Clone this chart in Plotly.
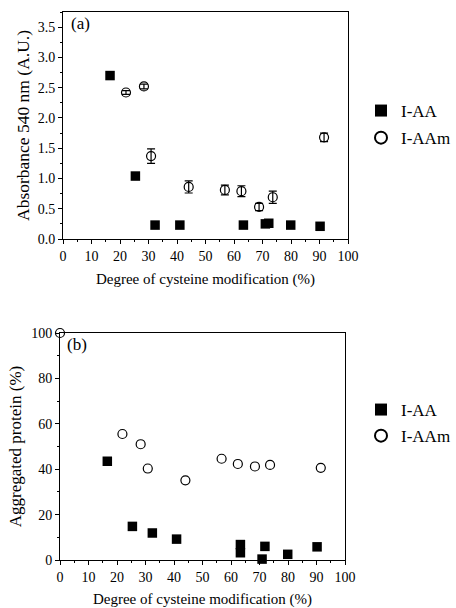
import plotly.graph_objects as go

# Panel (a): absorbance at 540 nm
aa_x_a = [16.5, 25.4, 32.3, 41.0, 63.3, 71.0, 72.2, 79.9, 90.2]
aa_y_a = [2.70, 1.04, 0.23, 0.23, 0.23, 0.25, 0.26, 0.23, 0.21]
aa_err_a = [0.03, 0.03, 0.02, 0.02, 0.03, 0.03, 0.03, 0.02, 0.02]

aam_x_a = [22.1, 28.4, 30.9, 44.1, 56.8, 62.6, 68.8, 73.6, 91.6]
aam_y_a = [2.42, 2.52, 1.37, 0.86, 0.81, 0.79, 0.53, 0.69, 1.68]
aam_err_a = [0.03, 0.04, 0.12, 0.10, 0.08, 0.09, 0.06, 0.10, 0.07]

# Panel (b): aggregated protein (%)
aa_x_b = [16.6, 25.4, 32.4, 40.9, 63.3, 63.3, 71.9, 70.9, 79.9, 90.2]
aa_y_b = [43.5, 14.8, 11.9, 9.2, 6.8, 3.2, 6.0, 0.4, 2.5, 5.8]

aam_x_b = [0.0, 21.9, 28.3, 30.8, 44.0, 56.7, 62.4, 68.4, 73.7, 91.5]
aam_y_b = [100.0, 55.5, 51.0, 40.3, 35.1, 44.6, 42.3, 41.2, 41.9, 40.6]

FONT = "Liberation Serif"

fig = go.Figure()

fig.add_trace(go.Scatter(
    x=aa_x_a, y=aa_y_a, mode="markers", name="I-AA", legendgroup="a1",
    marker=dict(symbol="square", size=9.5, color="black"),
    error_y=dict(type="data", array=aa_err_a, color="black", thickness=1, width=3),
    xaxis="x", yaxis="y", legend="legend", cliponaxis=False))
fig.add_trace(go.Scatter(
    x=aam_x_a, y=aam_y_a, mode="markers", name="I-AAm", legendgroup="a2",
    marker=dict(symbol="circle-open", size=9, color="black", line=dict(width=1.2, color="black")),
    error_y=dict(type="data", array=aam_err_a, color="black", thickness=1.2, width=4),
    xaxis="x", yaxis="y", legend="legend", cliponaxis=False))

fig.add_trace(go.Scatter(
    x=aa_x_b, y=aa_y_b, mode="markers", name="I-AA", legendgroup="b1",
    marker=dict(symbol="square", size=9.5, color="black"),
    xaxis="x2", yaxis="y2", legend="legend2", cliponaxis=False))
fig.add_trace(go.Scatter(
    x=aam_x_b, y=aam_y_b, mode="markers", name="I-AAm", legendgroup="b2",
    marker=dict(symbol="circle-open", size=9, color="black", line=dict(width=1.2, color="black")),
    xaxis="x2", yaxis="y2", legend="legend2", cliponaxis=False))

W, H = 456, 608

def fx(px):
    return px / W

def fy(py):
    return 1 - py / H

axis_common = dict(
    showline=True, linecolor="black", linewidth=1, mirror=True,
    ticks="outside", ticklen=4, tickwidth=1, tickcolor="black",
    showgrid=False, zeroline=False, automargin=False,
    tickfont=dict(family=FONT, size=14, color="black"),
)
minor_x = dict(ticks="outside", ticklen=2, dtick=5, tickcolor="black", showgrid=False)
xtitle_font = dict(family=FONT, size=15, color="black")
legend_font = dict(family=FONT, size=17, color="black")
label_font = dict(family=FONT, size=17, color="black")

fig.update_layout(
    width=W, height=H,
    margin=dict(l=0, r=0, t=0, b=0),
    paper_bgcolor="white", plot_bgcolor="white",
    font=dict(family=FONT, color="black"),
    xaxis=dict(domain=[fx(63), fx(348)], range=[0, 100], dtick=10, anchor="y",
               minor=minor_x,
               title=dict(text="Degree of cysteine modification (%)", font=xtitle_font, standoff=10),
               **axis_common),
    yaxis=dict(domain=[fy(239), fy(12)], range=[0, 3.75], dtick=0.5, tickformat=".1f",
               anchor="x",
               minor=dict(ticks="outside", ticklen=2, dtick=0.25, tickcolor="black", showgrid=False),
               title=dict(text="Absorbance 540 nm (A.U.)",
                          font=dict(family=FONT, size=17.5, color="black"), standoff=3),
               **axis_common),
    xaxis2=dict(domain=[fx(60), fx(345)], range=[0, 100], dtick=10, anchor="y2",
                minor=minor_x,
                title=dict(text="Degree of cysteine modification (%)", font=xtitle_font, standoff=10),
                **axis_common),
    yaxis2=dict(domain=[fy(560), fy(333)], range=[0, 100], dtick=20, anchor="x2",
                minor=dict(ticks="outside", ticklen=2, dtick=10, tickcolor="black", showgrid=False),
                title=dict(text="Aggregated protein (%)",
                           font=dict(family=FONT, size=17, color="black"), standoff=5),
                **axis_common),
    legend=dict(x=1, y=fy(93), xanchor="right", yanchor="top",
                bgcolor="rgba(0,0,0,0)", font=legend_font,
                itemsizing="constant", tracegroupgap=2),
    legend2=dict(x=1, y=fy(392), xanchor="right", yanchor="top",
                 bgcolor="rgba(0,0,0,0)", font=legend_font,
                 itemsizing="constant", tracegroupgap=1),
    showlegend=True,
    annotations=[
        dict(text="(a)", x=fx(69), y=fy(12), xref="paper", yref="paper",
             xanchor="left", yanchor="top", showarrow=False, font=label_font),
        dict(text="(b)", x=fx(65), y=fy(333), xref="paper", yref="paper",
             xanchor="left", yanchor="top", showarrow=False, font=label_font),
    ],
)

fig.write_html("out.html", config={"displayModeBar": False},
               post_script="document.body.style.margin='0';document.body.style.padding='0';")
